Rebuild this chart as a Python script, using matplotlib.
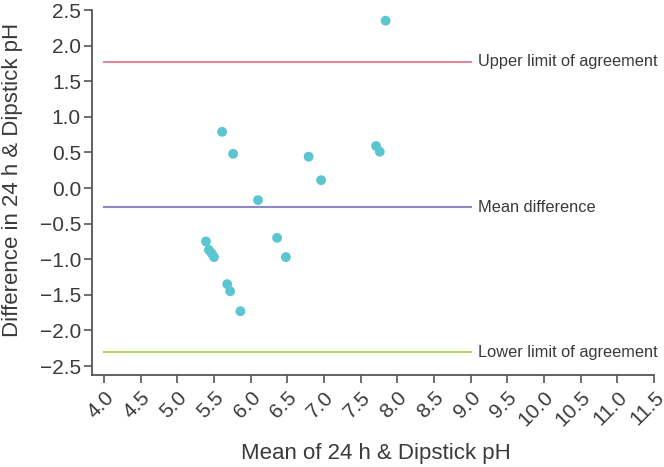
import numpy as np
import matplotlib
matplotlib.use("Agg")
import matplotlib.pyplot as plt

plt.rcParams["font.family"] = ["Liberation Sans", "DejaVu Sans"]

# mean of the two measurements vs their difference
mean_ph = [7.84, 5.61, 5.76, 6.79, 6.96, 7.71, 7.76, 6.10, 5.39, 6.36,
           5.43, 5.47, 5.50, 6.48, 5.68, 5.72, 5.86]
diff_ph = [2.35, 0.79, 0.48, 0.44, 0.11, 0.59, 0.51, -0.17, -0.75, -0.70,
           -0.87, -0.92, -0.97, -0.97, -1.35, -1.45, -1.73]

upper_loa = 1.77
mean_diff = -0.27
lower_loa = -2.31
line_labels = ["Upper limit of agreement", "Mean difference", "Lower limit of agreement"]
line_colors = ["#e0899a", "#8c88c6", "#b6d56c"]

xticks = np.arange(4.0, 11.51, 0.5)
yticks = np.arange(-2.5, 2.51, 0.5)

W, H = 664, 467
fig = plt.figure(figsize=(W / 100, H / 100), dpi=100)
ax = fig.add_axes([92 / W, 1 - 375 / H, (654 - 92) / W, (375 - 10) / H])

for val, lab, col in zip([upper_loa, mean_diff, lower_loa], line_labels, line_colors):
    ax.plot([4.0, 9.0], [val, val], color=col, lw=1.5, zorder=1)
    ax.text(9.1, val, lab, va="center", ha="left", fontsize=11.8, color="#3a3a3a")

ax.scatter(mean_ph, diff_ph, s=50, color="#5bc5d1", edgecolors="none", zorder=3)

ax.set_xlim(3.836, 11.5)
ax.set_ylim(-2.626, 2.5)
ax.set_xticks(xticks)
ax.set_xticklabels(["%.1f" % t for t in xticks], rotation=45, ha="right",
                   rotation_mode="anchor")
ax.set_yticks(yticks)
ax.set_yticklabels(["%.1f" % t if t >= 0 else "\u2212%.1f" % abs(t) for t in yticks])

for s in ["top", "right"]:
    ax.spines[s].set_visible(False)
for s in ["left", "bottom"]:
    ax.spines[s].set_color("#555555")
    ax.spines[s].set_linewidth(1.3)

ax.tick_params(axis="both", direction="out", length=6, width=1.2, color="#555555",
               labelsize=15, labelcolor="#3a3a3a")
ax.tick_params(axis="y", pad=2)
ax.tick_params(axis="x", pad=3)

ax.set_xlabel("Mean of 24 h & Dipstick pH", fontsize=16, color="#3a3a3a")
ax.set_ylabel("Difference in 24 h & Dipstick pH", fontsize=16, color="#3a3a3a")
ax.xaxis.set_label_coords((376 - 92) / (654 - 92), -(453 - 375) / (375 - 10))
ax.yaxis.set_label_coords(-(92 - 13) / (654 - 92), (375 - 180) / (375 - 10))
ax.xaxis.label.set_va("center")
ax.yaxis.label.set_va("center")

fig.savefig("out.png", dpi=100)
